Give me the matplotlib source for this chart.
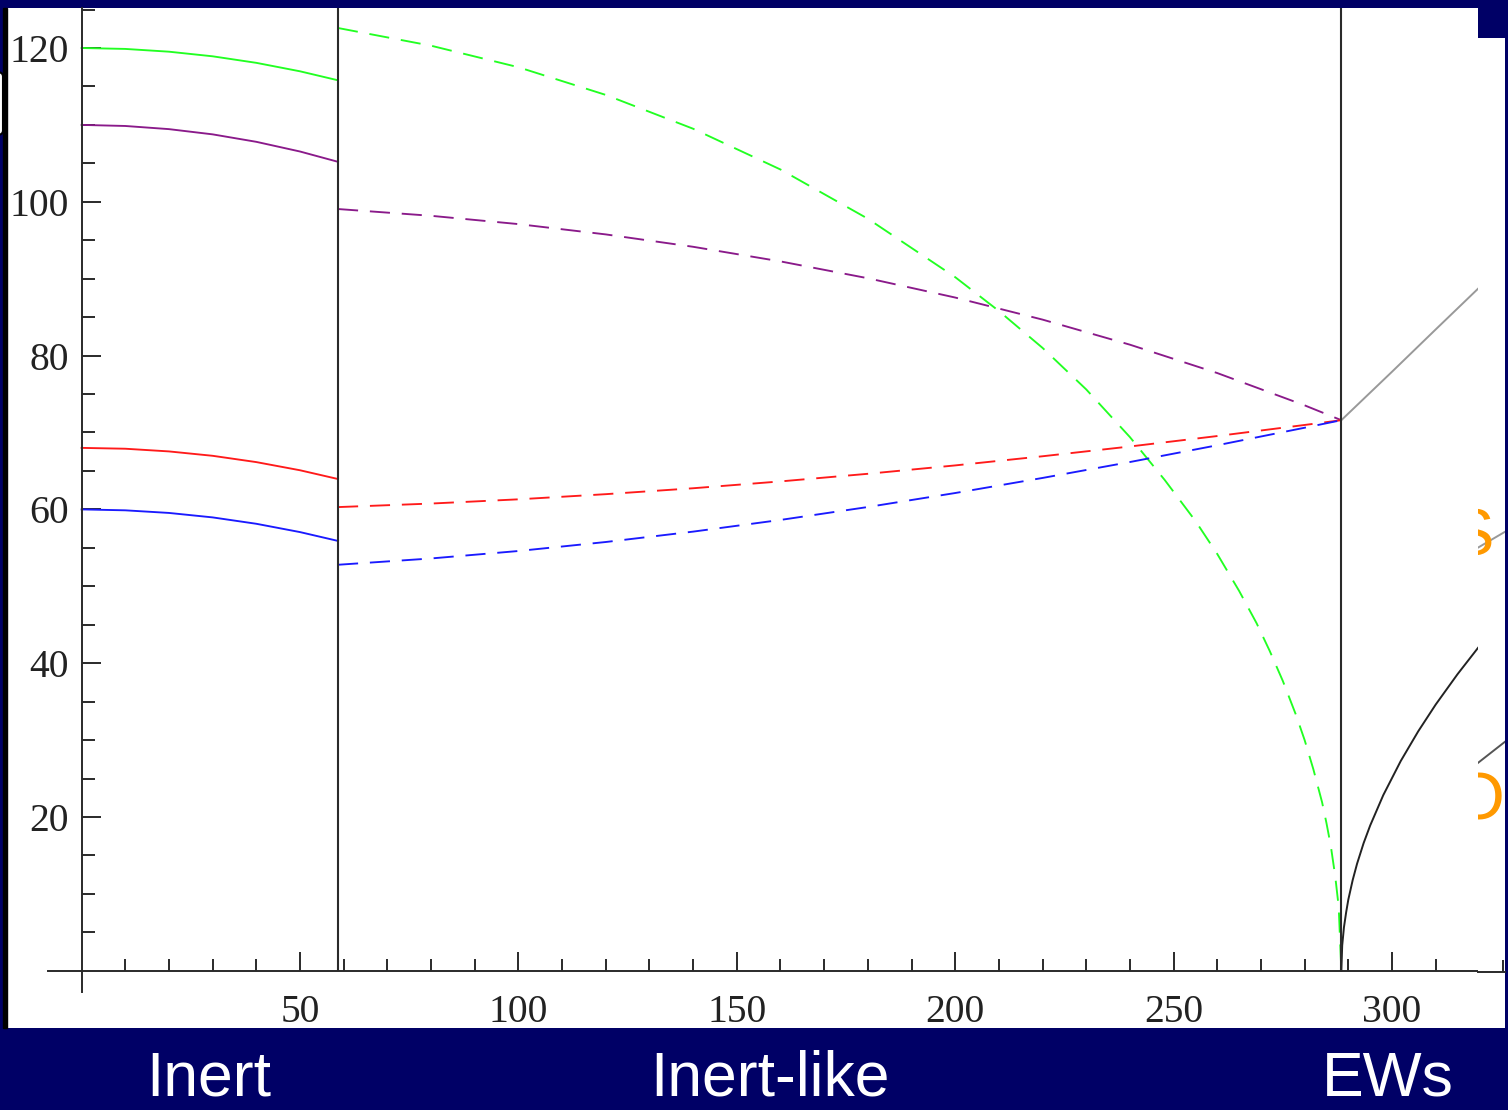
"""
Mass spectrum across the Inert / Inert-like / EW-symmetric phases,
redrawn as a slide crop (navy frame, phase names underneath).
"""
import matplotlib
matplotlib.use("Agg")
import matplotlib.pyplot as plt
from matplotlib.patches import Rectangle, FancyBboxPatch

W, H, DPI = 1508, 1110, 100
NAVY = "#000066"
AXC = "#2a2a2a"

# ─────────────────────────────────────────────────────────────────────────────
# Data
# ─────────────────────────────────────────────────────────────────────────────
X_INERT_END = 58.7     # Inert -> Inert-like boundary
X_EW = 288.4           # Inert-like -> EWs boundary

# Inert phase, solid curves
x_inert = [0, 10, 20, 30, 40, 50, 58.7]
inert_green = [120.0, 119.88, 119.52, 118.92, 118.07, 116.97, 115.8]
inert_purple = [110.0, 109.86, 109.45, 108.77, 107.8, 106.54, 105.2]
inert_red = [68.0, 67.89, 67.54, 66.97, 66.15, 65.09, 63.95]
inert_blue = [60.0, 59.88, 59.54, 58.96, 58.13, 57.05, 55.9]

# Inert-like phase, dashed curves
x_like = [58.7, 80, 100, 120, 140, 160, 180, 200, 220, 240, 260, 280, 288.4]
like_purple = [99.06, 98.18, 97.10, 95.76, 94.15, 92.25, 90.06, 87.55,
               84.68, 81.42, 77.73, 73.53, 71.6]
like_red = [60.3, 60.76, 61.31, 61.98, 62.75, 63.64, 64.63, 65.72,
            66.91, 68.18, 69.54, 70.98, 71.6]
like_blue = [52.8, 53.62, 54.59, 55.76, 57.11, 58.63, 60.31, 62.13,
             64.09, 66.16, 68.34, 70.62, 71.6]

x_like_green = [58.7, 80, 100, 120, 140, 160, 180, 200, 210, 220, 230, 240,
                248, 255, 260, 265, 269, 272, 275, 278, 280, 282, 284, 285,
                286, 287, 287.8, 288.4]
like_green = [122.6, 120.3, 117.5, 113.9, 109.5, 104.2, 97.8, 90.2, 85.8,
              81.0, 75.6, 69.4, 63.8, 58.5, 54.2, 49.4, 45.2, 41.6, 37.7,
              33.3, 30.0, 26.2, 21.9, 19.2, 16.2, 12.3, 8.3, 0.0]

# EWs phase
x_ew_gray = [288.4, 300, 310, 319.7]
ew_gray = [71.6, 77.9, 83.4, 88.7]
x_ew_black = [288.4, 288.6, 289, 289.5, 290, 291, 292, 293.5, 295, 298, 302,
              306, 310, 315, 319.7]
ew_black = [0.0, 3.3, 5.66, 7.6, 9.26, 11.8, 13.92, 16.6, 18.89, 22.84,
            27.28, 31.14, 34.62, 38.57, 42.0]

# pieces of a second copy of the chart peeking out at the right edge
x_peek = [319.6, 325.9]
peek_upper = [55.0, 57.1]
peek_lower = [27.0, 29.8]

x_major = [50, 100, 150, 200, 250, 300]
x_minor = [v for v in range(10, 320, 10) if v % 50]
y_major = [20, 40, 60, 80, 100, 120]
y_minor = [v for v in range(5, 130, 5) if v % 20]

phase_names = ["Inert", "Inert-like", "EWs"]
phase_name_px = [209, 770, 1388]

# pixel mapping of the original picture
X0_PX, SX = 81.6, 4.368
Y0_PX, SY = 970.8, 7.69


def px_x(p):
    return (p - X0_PX) / SX


def px_y(p):
    return (Y0_PX - p) / SY


def fig_rect(x0, y0, x1, y1):
    """pixel box (top-left origin) -> figure fraction [l, b, w, h]"""
    return [x0 / W, 1 - y1 / H, (x1 - x0) / W, (y1 - y0) / H]


plt.rcParams["lines.scale_dashes"] = False
fig = plt.figure(figsize=(W / DPI, H / DPI), dpi=DPI, facecolor=NAVY)

# ── main chart ───────────────────────────────────────────────────────────────
ax = fig.add_axes(fig_rect(7, 8, 1478, 1028))
ax.set_facecolor("white")
ax.set_xlim(px_x(7), px_x(1478))
ax.set_ylim(px_y(1028), px_y(8))
YTOP = px_y(8)

LW = 1.35
DASH = (0, (14.5, 8.5))
for ys, c in [(inert_green, "#22ff22"), (inert_purple, "#8a1a8a"),
              (inert_red, "#ff1a1a"), (inert_blue, "#1a1aff")]:
    ax.plot(x_inert, ys, color=c, lw=LW, zorder=2)

ax.plot(x_like_green, like_green, color="#22ff22", lw=LW, ls=DASH, zorder=2)
for ys, c in [(like_purple, "#8a1a8a"), (like_red, "#ff1a1a"),
              (like_blue, "#1a1aff")]:
    ax.plot(x_like, ys, color=c, lw=LW, ls=DASH, zorder=2)

ax.plot(x_ew_gray, ew_gray, color="#999999", lw=1.4, zorder=2)
ax.plot(x_ew_black, ew_black, color="#222222", lw=1.4, zorder=2)

ax.vlines([X_INERT_END, X_EW], 0, YTOP, colors=AXC, lw=1.5, zorder=3)

for side in ("top", "right"):
    ax.spines[side].set_visible(False)
ax.spines["left"].set_position(("data", 0))
ax.spines["bottom"].set_position(("data", 0))
ax.spines["left"].set_bounds(-2.8, YTOP)
ax.spines["bottom"].set_bounds(-7.7, px_x(1478))
for side in ("left", "bottom"):
    ax.spines[side].set_color(AXC)
    ax.spines[side].set_linewidth(1.4)

ax.set_xticks(x_major)
ax.set_xticks(x_minor, minor=True)
ax.set_yticks(y_major)
ax.set_yticks(y_minor, minor=True)
ax.tick_params(which="both", direction="in", color=AXC, width=1.4,
               labelcolor="#222222")
ax.tick_params(which="major", length=13.5)
ax.tick_params(which="minor", length=9)
ax.tick_params(axis="x", which="major", pad=17)
ax.tick_params(axis="y", which="major", pad=9)
for lab in ax.get_xticklabels() + ax.get_yticklabels():
    lab.set_fontfamily("Liberation Serif")
    lab.set_fontsize(28.5)

# ── right edge: a sliver of another copy of the chart ────────────────────────
ov = fig.add_axes(fig_rect(1478, 38, 1505, 1028))
ov.set_facecolor("white")
ov.set_xlim(px_x(1478), px_x(1505))
ov.set_ylim(px_y(1028), px_y(38))
for side in ("top", "right", "left"):
    ov.spines[side].set_visible(False)
ov.spines["bottom"].set_position(("data", -0.2))
ov.spines["bottom"].set_color(AXC)
ov.spines["bottom"].set_linewidth(1.4)
ov.set_yticks([])
ov.set_xticks([px_x(1503)])
ov.set_xticklabels([""])
ov.tick_params(axis="x", direction="in", length=8.6, width=1.4, color=AXC)
ov.plot(x_peek, peek_upper, color="#999999", lw=1.4)
ov.plot(x_peek, peek_lower, color="#555555", lw=1.4)
for s, xp, yp in [("S", 1493, 555), ("O", 1505, 819)]:
    ov.text(px_x(xp), px_y(yp), s, ha="right", va="baseline",
            fontfamily="Liberation Sans", fontsize=48, color="#ff9900",
            clip_on=True)

# ── slide furniture ──────────────────────────────────────────────────────────
fig.patches.append(Rectangle((3 / W, 1 - 1028 / H), 4 / W, 1020 / H,
                             transform=fig.transFigure, color="black",
                             zorder=5))
fig.patches.append(FancyBboxPatch((-12 / W, 1 - 135 / H), 15 / W, 63 / H,
                                  boxstyle="round,pad=0,rounding_size=0.004",
                                  transform=fig.transFigure, facecolor="white",
                                  edgecolor="black", lw=1.5, zorder=6))

for name, xp in zip(phase_names, phase_name_px):
    fig.text(xp / W, 1 - 1096 / H, name, ha="center", va="baseline",
             fontfamily="Liberation Sans", fontsize=45, color="white")

fig.savefig("out.png", dpi=DPI, facecolor=NAVY)
